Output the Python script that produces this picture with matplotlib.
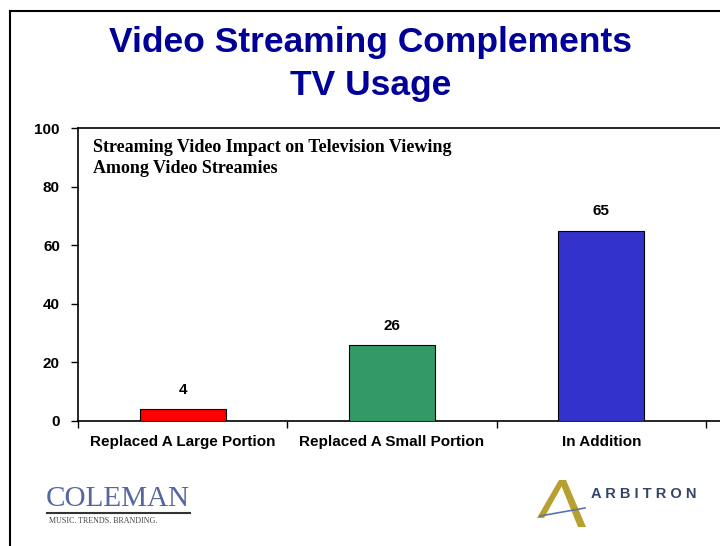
import matplotlib
matplotlib.use("Agg")
import matplotlib.pyplot as plt
from matplotlib.lines import Line2D
from matplotlib.patches import Polygon

categories = ["Replaced A Large Portion", "Replaced A Small Portion", "In Addition"]
values = [4, 26, 65]
colors = ["#ff0000", "#339966", "#3333cc"]
yticks = [0, 20, 40, 60, 80, 100]

W, H = 720, 546
fig = plt.figure(figsize=(7.2, 5.46), dpi=100)
fig.patch.set_facecolor("white")

def fx(px):
    return px / W

def fy(py):
    return 1 - py / H

# frame lines (left and top)
fig.add_artist(Line2D([fx(10), fx(10)], [fy(11), 0], color="black", lw=1.5))
fig.add_artist(Line2D([fx(10), 1], [fy(11), fy(11)], color="black", lw=1.5))

# title
fig.text(fx(371), fy(43), "Video Streaming Complements", ha="center", va="center",
         fontsize=25.5, fontweight="bold", color="#000099", family="Liberation Sans")
fig.text(fx(371), fy(86), "TV Usage", ha="center", va="center",
         fontsize=25.5, fontweight="bold", color="#000099", family="Liberation Sans")

# axes: y from 128 (100) to 421 (0); x from 78 to ~720
ax = fig.add_axes([fx(78), fy(421), fx(720) - fx(78), fy(128) - fy(421)])
x = list(range(len(categories)))
step = (706 - 78) / 3
ax.bar(x, values, width=0.41, color=colors, edgecolor="black", linewidth=0.8, zorder=3)
ax.set_xlim(-0.5, 2.5 + (720 - 706) / step)
ax.set_ylim(0, 100)

for xi, v in zip(x, values):
    ax.text(xi, v + 4.2, str(v), ha="center", va="bottom", fontsize=11,
            fontweight="bold", family="Liberation Sans")

ax.set_yticks(yticks)
ax.set_yticklabels([str(t) for t in yticks], fontsize=11, fontweight="bold",
                   family="Liberation Sans")
ax.set_xticks([-0.5, 0.5, 1.5, 2.5])
ax.set_xticklabels([])
ax.tick_params(axis="y", length=5, width=1, pad=8, direction="out")
ax.tick_params(axis="x", length=5, width=1, direction="out")
ax.spines["right"].set_visible(False)
for s in ["left", "bottom", "top"]:
    ax.spines[s].set_linewidth(1.2)

for xi, c in zip(x, categories):
    ax.text(xi, -7.3, c, ha="center", va="center", fontsize=11, fontweight="bold",
            family="Liberation Sans", transform=ax.transData, clip_on=False)

ax.text(fx(93), fy(158), "Streaming Video Impact on Television Viewing\nAmong Video Streamies",
        transform=fig.transFigure, ha="left", va="center", fontsize=13,
        fontweight="bold", family="Liberation Serif", linespacing=1.25)

# COLEMAN logo
fig.text(fx(46), fy(499), "COLEMAN", ha="left", va="center", fontsize=21,
         family="Liberation Serif", color="#5566a0")
fig.add_artist(Line2D([fx(47), fx(190)], [fy(513), fy(513)], color="#333333", lw=1.5))
fig.text(fx(49), fy(521), "MUSIC. TRENDS. BRANDING.", ha="left", va="center",
         fontsize=5.8, family="Liberation Serif", color="#444444")

# ARBITRON logo
gold = "#b8a030"
fig.add_artist(Polygon([[fx(559), fy(480)], [fx(566), fy(480)], [fx(586), fy(527)],
                        [fx(578), fy(527)]], closed=True, transform=fig.transFigure,
                       facecolor=gold, edgecolor="none"))
fig.add_artist(Polygon([[fx(559), fy(480)], [fx(563), fy(484)], [fx(544), fy(518)],
                        [fx(537), fy(518)]], closed=True, transform=fig.transFigure,
                       facecolor=gold, edgecolor="none"))
fig.add_artist(Line2D([fx(540), fx(585)], [fy(516), fy(508)], color="#5577aa", lw=1.2))
fig.text(fx(591), fy(494), "A R B I T R O N", ha="left", va="center", fontsize=10.5,
         fontweight="bold", family="Liberation Sans", color="#334466")

fig.savefig("out.png", dpi=100, facecolor="white")
